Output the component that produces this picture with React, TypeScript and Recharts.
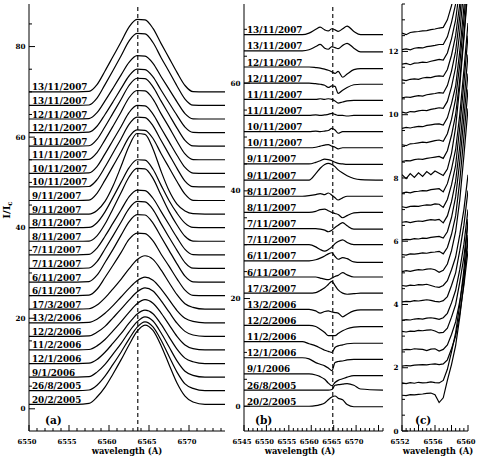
import React from 'react';
import { ComposedChart, Line, XAxis, YAxis, ReferenceLine } from 'recharts';

const FONT = "DejaVu Serif, serif";

// spectra, bottom (index 0) to top (index 23)
const dates = [
  '20/2/2005', '26/8/2005', '9/1/2006', '12/1/2006', '11/2/2006', '12/2/2006', '13/2/2006', '17/3/2007',
  '6/11/2007', '6/11/2007', '7/11/2007', '7/11/2007', '8/11/2007', '8/11/2007', '9/11/2007', '9/11/2007',
  '10/11/2007', '10/11/2007', '11/11/2007', '11/11/2007', '12/11/2007', '12/11/2007', '13/11/2007', '13/11/2007',
];

// ---------- panel (a): H-alpha profiles, I/Ic ----------
const wlA = [6550, 6556, 6557.5, 6558.5, 6559.5, 6560.5, 6561.5, 6562.5, 6563.5, 6564.5, 6565.5, 6566.5, 6567.5, 6568.5, 6569.5, 6570.5, 6572, 6574.5];
const offsetsA = [0, 3, 6, 9, 12, 15, 18, 21, 24, 27, 30, 33, 36, 39, 42, 45, 48, 51, 54, 57, 60, 63, 66, 69];
const profilesA = [
  [1, 1, 1.2, 2.6, 4.8, 7.7, 10.8, 14.1, 17.1, 18.5, 17.3, 14.0, 9.8, 5.7, 2.8, 1.5, 1, 1],
  [1, 1, 1.15, 2.2, 4.2, 6.8, 9.5, 12.4, 15.0, 16.2, 15.1, 12.2, 8.6, 5.1, 2.5, 1.5, 1, 1],
  [1, 1, 1.1, 2.1, 3.8, 6.1, 8.4, 11.0, 13.2, 14.3, 13.4, 10.8, 7.7, 4.6, 2.3, 1.4, 1, 1],
  [1, 1, 1.1, 1.9, 3.5, 5.5, 7.6, 9.9, 11.9, 12.8, 12.0, 9.7, 6.9, 4.2, 2.2, 1.4, 1, 1],
  [1, 1, 1.1, 1.9, 3.3, 5.2, 7.2, 9.3, 11.2, 12.1, 11.3, 9.2, 6.6, 4.0, 2.1, 1.3, 1, 1],
  [1, 1, 1.1, 1.9, 3.2, 5.1, 7.0, 9.0, 10.8, 11.7, 11.0, 8.9, 6.4, 3.9, 2.1, 1.3, 1, 1],
  [1, 1, 1.1, 1.8, 3.1, 4.8, 6.7, 8.6, 10.3, 11.1, 10.4, 8.5, 6.1, 3.7, 2.0, 1.3, 1, 1],
  [1, 1, 1.1, 1.9, 3.5, 5.5, 7.6, 9.9, 11.9, 12.8, 12.0, 9.7, 6.9, 4.2, 2.2, 1.4, 1, 1],
  [1, 1, 1.1, 2.4, 5.0, 7.7, 10.5, 13.4, 14.8, 14.7, 13.1, 10.2, 7.5, 4.7, 2.2, 1.05, 1, 1],
  [1, 1, 1.1, 2.5, 5.3, 8.2, 11.3, 14.3, 15.9, 15.8, 14.0, 11.0, 8.0, 5.0, 2.3, 1.05, 1, 1],
  [1, 1, 1.1, 2.5, 5.3, 8.2, 11.2, 14.2, 15.8, 15.7, 14.0, 10.9, 7.9, 5.0, 2.3, 1.05, 1, 1],
  [1, 1, 1.1, 2.5, 5.1, 8.0, 10.9, 13.8, 15.3, 15.2, 13.5, 10.6, 7.7, 4.8, 2.2, 1.05, 1, 1],
  [1, 1, 1.05, 2.2, 4.8, 8.2, 11.7, 15.2, 17.1, 17.0, 14.9, 11.2, 7.6, 4.6, 2.1, 1.05, 1, 1],
  [1, 1, 1.05, 2.1, 4.5, 7.7, 11.0, 14.2, 16.0, 15.9, 13.9, 10.4, 7.0, 4.2, 2.0, 1.05, 1, 1],
  [1, 1, 1, 1.8, 3.8, 7.2, 11.5, 16.0, 18.8, 18.6, 15.4, 10.5, 6.2, 3.2, 1.7, 1.1, 1, 1],
  [1, 1, 1.1, 2.6, 5.5, 8.6, 11.7, 15.0, 16.6, 16.5, 14.7, 11.4, 8.3, 5.2, 2.4, 1.05, 1, 1],
  [1, 1, 1.1, 2.6, 5.4, 8.5, 11.6, 14.8, 16.4, 16.3, 14.5, 11.3, 8.2, 5.1, 2.3, 1.05, 1, 1],
  [1, 1, 1.1, 2.5, 5.3, 8.3, 11.3, 14.4, 16.0, 15.9, 14.1, 11.0, 8.0, 5.0, 2.3, 1.05, 1, 1],
  [1, 1, 1.1, 2.6, 5.4, 8.4, 11.5, 14.7, 16.3, 16.2, 14.4, 11.2, 8.2, 5.1, 2.3, 1.05, 1, 1],
  [1, 1, 1.1, 2.5, 5.3, 8.3, 11.3, 14.4, 16.0, 15.9, 14.1, 11.0, 8.0, 5.0, 2.3, 1.05, 1, 1],
  [1, 1, 1.1, 2.4, 5.0, 7.8, 10.7, 13.5, 15.0, 14.9, 13.3, 10.4, 7.6, 4.8, 2.2, 1.05, 1, 1],
  [1, 1, 1.1, 2.4, 5.0, 7.8, 10.7, 13.5, 15.0, 14.9, 13.3, 10.4, 7.6, 4.8, 2.2, 1.05, 1, 1],
  [1, 1, 1.1, 2.6, 5.6, 8.7, 11.9, 15.2, 16.9, 16.8, 14.9, 11.6, 8.5, 5.3, 2.4, 1.05, 1, 1],
  [1, 1, 1.1, 2.6, 5.6, 8.8, 12.0, 15.3, 17.0, 16.9, 15.0, 11.7, 8.5, 5.3, 2.4, 1.05, 1, 1],
];
const restA = 6563.6;

// ---------- panel (b): residual profiles ----------
const wlB = [6545, 6558, 6559.5, 6561, 6562, 6563, 6563.8, 6564.6, 6565.3, 6566, 6567, 6568, 6569.5, 6571, 6576];
const offsetsB = [0, 3, 6, 9, 12, 15, 18, 21, 24, 27, 30, 33, 36, 39, 42, 45, 48, 51, 54, 57, 60, 63, 66, 69];
const profilesB = [
  [0, 0, 0, 0.1, 0.3, 0.6, 1.2, 1.7, 1.9, 1.5, 1.2, 0.3, -0.1, -0.1, -0.1],
  [0, 0, 0, 0, 0, 0, 0, 0.1, 0.9, 1.0, 1.1, 1.2, 0.9, 0.2, 0],
  [0, 0, 0, -0.2, -0.5, -1.0, -1.7, -2.2, -1.6, -1.2, -0.9, -0.6, -0.3, -0.3, -0.3],
  [0, 0, -0.2, -0.9, -1.2, -1.5, -1.9, -2.4, -0.9, -0.7, -0.6, -0.4, -0.3, -0.3, -0.3],
  [0, 0, -0.4, -0.8, -1.2, -1.6, -1.8, -2.0, -1.1, -0.8, -0.6, -0.4, -0.3, -0.3, -0.3],
  [0, 0, 0, -0.2, -0.7, -1.3, -1.9, -1.9, -1.9, -1.5, -1.0, -0.6, -0.3, -0.2, -0.2],
  [0, 0, 0, -0.3, -0.7, -0.4, -0.3, -0.5, -0.6, -0.7, -1.4, -0.9, -0.3, -0.1, -0.1],
  [0, 0, 0, 0.1, 0.5, 1.0, 1.6, 2.2, 1.4, 0.6, 0, -0.2, -0.1, 0, 0],
  [0, 0, 0, 0, -0.2, -0.4, -0.5, -0.2, 0.1, 0.3, 0.8, 0.4, 0, 0, 0],
  [0, 0, 0, 0.2, 0.5, 0.9, 1.3, 1.5, 0.8, 0.3, 0.6, 0.4, -0.2, -0.3, -0.3],
  [0, 0, 0, -0.4, -0.9, -1.2, -0.9, -0.4, 0.2, 0.6, 0.9, 0.4, 0, 0, 0],
  [0, 0, 0, 0, -0.1, -0.3, -0.6, -0.3, 0.2, 0.6, 1.1, 0.5, -0.1, -0.1, -0.1],
  [0, 0, 0, 0.2, 0.5, 0.6, 0.3, 0, -0.2, -0.4, -1.0, -0.6, -0.1, 0, 0],
  [0, 0, 0.1, 0.3, 0.5, 0.3, 0.6, 0.2, -0.3, -0.7, -0.3, 0, 0, 0, 0],
  [0, 0, 0, 1.2, 2.2, 2.9, 3.1, 2.9, 2.5, 1.9, 1.3, 0.8, 0.3, 0.1, 0],
  [0, 0, 0, 0.3, 0.6, 0.9, 0.8, 0.6, 0.3, 0.1, 0, -0.1, -0.1, -0.1, -0.1],
  [0, 0, 0, 0.1, 0.3, 0.5, 0.6, 0.3, 0.1, -0.2, 0, 0, 0, 0, 0],
  [0, 0, 0, 0.1, 0, 0.1, 0.2, 0.6, 0.3, -0.3, 0, 0, 0, 0, 0],
  [0, 0, 0, 0.1, 0, 0.1, 0.2, 0.4, 0.2, 0, 0, -0.1, 0, 0, 0],
  [0, 0, 0, 0, 0.1, 0, 0.1, 0, -0.3, -0.7, -0.5, -0.3, -0.2, -0.2, -0.2],
  [0, 0, 0, -0.1, -0.2, -0.4, -0.8, -0.5, -0.6, -1.9, -1.3, -0.8, -0.3, -0.2, -0.2],
  [0, 0, 0, -0.1, -0.2, -0.4, -0.6, -0.9, -1.2, -0.8, -1.9, -1.3, -0.5, -0.3, -0.3],
  [0, 0, 0.2, 0.8, 1.2, 0.5, 0.3, 0.8, 0.6, 0.4, 1.0, 1.4, 0.5, -0.2, -0.2],
  [0, 0, 0.3, 1.0, 1.4, 0.9, 0.7, 1.1, 0.9, 0.6, 1.1, 1.6, 0.6, 0, 0],
];
const restB = 6564.8;

// ---------- panel (c): blue wing, I/Ic ----------
const wlC = [6552, 6552.5, 6553, 6553.5, 6554, 6554.5, 6555, 6555.5, 6556, 6556.5, 6557, 6557.5, 6558, 6558.5, 6559, 6559.5, 6560];
const offsetsC = [0, 0.5, 1, 1.5, 2, 2.5, 3, 3.5, 4, 4.5, 5, 5.5, 6, 6.5, 7, 7.5, 8, 8.5, 9, 9.5, 10, 10.5, 11, 11.5];
const profilesC = [
  [1.13, 1.12, 1.15, 1.14, 1.16, 1.17, 1.19, 1.20, 1.15, 0.90, 1.05, 1.60, 2.1, 2.7, 3.6, 4.7, 6.2],
  [1.02, 1.00, 1.03, 1.01, 1.04, 1.02, 1.03, 1.05, 1.03, 1.02, 1.10, 1.45, 2.0, 2.6, 3.5, 4.6, 6.2],
  [1.05, 1.07, 1.06, 1.08, 1.09, 1.10, 1.09, 1.11, 1.12, 1.10, 1.12, 1.25, 1.6, 2.0, 2.7, 3.6, 4.7],
  [1.06, 1.08, 1.07, 1.10, 1.09, 1.08, 1.04, 1.09, 1.10, 1.03, 1.08, 1.22, 1.55, 1.95, 2.6, 3.4, 4.5],
  [1.15, 1.13, 1.16, 1.15, 1.18, 1.17, 1.19, 1.20, 1.16, 1.10, 1.12, 1.25, 1.6, 2.0, 2.7, 3.5, 4.6],
  [1.00, 1.02, 1.01, 1.04, 1.05, 1.04, 1.07, 1.08, 1.06, 1.03, 1.08, 1.22, 1.55, 1.95, 2.6, 3.4, 4.5],
  [1.08, 1.10, 1.09, 1.12, 1.11, 1.13, 1.15, 1.13, 1.10, 1.08, 1.12, 1.25, 1.6, 2.0, 2.7, 3.5, 4.6],
  [1.10, 1.08, 1.11, 1.10, 1.13, 1.12, 1.14, 1.10, 1.06, 1.04, 1.10, 1.25, 1.6, 2.0, 2.7, 3.5, 4.6],
  [1.04, 1.07, 1.05, 1.08, 1.10, 1.09, 1.12, 1.13, 1.10, 1.02, 1.08, 1.28, 1.70, 2.3, 3.3, 4.7, 6.2],
  [1.08, 1.06, 1.10, 1.09, 1.11, 1.13, 1.12, 1.15, 1.16, 1.18, 1.10, 1.30, 1.72, 2.3, 3.4, 4.8, 6.3],
  [1.04, 1.06, 1.05, 1.08, 1.07, 1.10, 1.09, 1.12, 1.14, 1.15, 1.10, 1.30, 1.75, 2.4, 3.5, 4.9, 6.3],
  [1.10, 1.12, 1.09, 1.12, 1.14, 1.13, 1.16, 1.18, 1.17, 1.19, 1.08, 1.30, 1.75, 2.4, 3.5, 4.9, 6.4],
  [1.09, 1.06, 1.10, 1.11, 1.10, 1.13, 1.15, 1.14, 1.18, 1.17, 1.07, 1.32, 1.78, 2.4, 3.6, 5.0, 6.5],
  [1.02, 1.05, 1.03, 1.07, 1.08, 1.10, 1.09, 1.13, 1.15, 1.16, 1.06, 1.32, 1.78, 2.4, 3.5, 4.9, 6.4],
  [1.10, 0.98, 1.14, 1.02, 1.16, 1.05, 1.20, 1.10, 1.22, 1.15, 1.08, 1.28, 1.78, 2.6, 3.9, 5.4, 7.0],
  [1.02, 1.05, 1.04, 1.08, 1.10, 1.09, 1.12, 1.14, 1.16, 1.18, 1.12, 1.36, 1.85, 2.5, 3.6, 5.0, 6.6],
  [1.05, 1.02, 1.08, 1.09, 1.11, 1.13, 1.12, 1.15, 1.18, 1.20, 1.16, 1.40, 1.85, 2.5, 3.6, 5.0, 6.5],
  [1.07, 1.10, 1.08, 1.11, 1.13, 1.12, 1.16, 1.18, 1.20, 1.21, 1.17, 1.40, 1.85, 2.4, 3.5, 4.9, 6.4],
  [1.08, 1.05, 1.10, 1.09, 1.12, 1.14, 1.13, 1.17, 1.19, 1.22, 1.20, 1.42, 1.88, 2.5, 3.6, 5.0, 6.5],
  [1.03, 1.06, 1.05, 1.08, 1.10, 1.09, 1.13, 1.15, 1.17, 1.20, 1.18, 1.42, 1.88, 2.5, 3.6, 5.0, 6.5],
  [1.10, 1.08, 1.12, 1.13, 1.12, 1.16, 1.18, 1.17, 1.21, 1.23, 1.21, 1.43, 1.88, 2.5, 3.5, 4.9, 6.4],
  [1.10, 1.12, 1.08, 1.13, 1.14, 1.16, 1.15, 1.19, 1.22, 1.25, 1.23, 1.45, 1.90, 2.5, 3.5, 4.9, 6.4],
  [1.06, 1.08, 1.05, 1.10, 1.12, 1.11, 1.15, 1.17, 1.19, 1.22, 1.22, 1.46, 1.92, 2.5, 3.6, 5.0, 6.5],
  [1.08, 1.03, 1.10, 1.12, 1.13, 1.15, 1.16, 1.19, 1.21, 1.24, 1.26, 1.50, 1.95, 2.5, 3.6, 5.0, 6.5],
];

// ---------- axis tick labels ----------
const xMajorA = [6550, 6555, 6560, 6565, 6570];
const yMajorA = [0, 20, 40, 60, 80];
const xMajorB = [6545, 6550, 6555, 6560, 6565, 6570, 6575];
const xLabelsB = [6545, 6550, 6555, 6560, 6565, 6570];
const yMajorB = [0, 20, 40, 60];
const xMajorC = [6552, 6554, 6556, 6558, 6560];
const xLabelsC = [6552, 6556, 6560];
const yMajorC = [0, 2, 4, 6, 8, 10, 12];

const range = (a: number, b: number, s: number) => {
  const out: number[] = [];
  const n = Math.round((b - a) / s);
  for (let k = 0; k <= n; k++) out.push(Math.round((a + k * s) * 1000) / 1000);
  return out;
};

function buildRows(wl: number[], profiles: number[][], offsets: number[]) {
  return wl.map((w, k) => {
    const row: Record<string, number> = { wl: w };
    profiles.forEach((p, i) => {
      row['s' + i] = p[k] + offsets[i];
    });
    return row;
  });
}

const textStyle = { fontFamily: FONT, fontWeight: 700 as const, fill: '#000' };

function makeTick(side: 'bottom' | 'top' | 'left' | 'right', majors: number[], labels: number[]) {
  return (props: any) => {
    const { x, y, payload } = props;
    const v = payload.value as number;
    const major = majors.some((m) => Math.abs(m - v) < 1e-6);
    const showLabel = labels.some((m) => Math.abs(m - v) < 1e-6);
    const len = major ? 6 : 3;
    if (side === 'bottom') {
      return (
        <g>
          <line x1={x} x2={x} y1={y} y2={y - len} stroke="#000" strokeWidth={1} />
          {showLabel && (
            <text x={x - 2} y={y + 12.5} textAnchor="middle" fontSize={6.8} {...textStyle}>{v}</text>
          )}
        </g>
      );
    }
    if (side === 'top') {
      return <line x1={x} x2={x} y1={y} y2={y + len} stroke="#000" strokeWidth={1} />;
    }
    if (side === 'left') {
      return (
        <g>
          <line x1={x} x2={x + len} y1={y} y2={y} stroke="#000" strokeWidth={1} />
          {showLabel && (
            <text x={x - 3.5} y={y + 2.6} textAnchor="end" fontSize={7.2} {...textStyle}>{v}</text>
          )}
        </g>
      );
    }
    return <line x1={x} x2={x - len} y1={y} y2={y} stroke="#000" strokeWidth={1} />;
  };
}

type PanelProps = {
  left: number;
  width: number;
  rightMargin: number;
  yAxisWidth: number;
  data: Record<string, number>[];
  xDomain: [number, number];
  yDomain: [number, number];
  xTicks: number[];
  xMajor: number[];
  xLabels: number[];
  yTicks: number[];
  yMajor: number[];
  rest?: number;
  withLabels: boolean;
  lineType: 'monotone' | 'linear';
};

function Panel(p: PanelProps) {
  const H = 457;
  const axisLine = { stroke: '#000', strokeWidth: 1 };
  return (
    <div style={{ position: 'absolute', left: p.left, top: 0 }}>
      <ComposedChart width={p.width} height={H} data={p.data} margin={{ top: 4, right: p.rightMargin, left: 0, bottom: 0 }}>
        <XAxis xAxisId="b" orientation="bottom" type="number" dataKey="wl" domain={p.xDomain} allowDataOverflow
          ticks={p.xTicks} interval={0} height={26} tickSize={0} tickMargin={0} tickLine={false} axisLine={axisLine}
          tick={makeTick('bottom', p.xMajor, p.xLabels)} />
        <XAxis xAxisId="t" orientation="top" type="number" dataKey="wl" domain={p.xDomain} allowDataOverflow
          ticks={p.xTicks} interval={0} height={0} tickSize={0} tickMargin={0} tickLine={false} axisLine={axisLine}
          tick={makeTick('top', p.xMajor, [])} />
        <YAxis yAxisId="l" orientation="left" type="number" domain={p.yDomain} allowDataOverflow
          ticks={p.yTicks} interval={0} width={p.yAxisWidth} tickSize={0} tickMargin={0} tickLine={false} axisLine={axisLine}
          tick={makeTick('left', p.yMajor, p.yMajor)} />
        <YAxis yAxisId="r" orientation="right" type="number" domain={p.yDomain} allowDataOverflow
          ticks={p.yTicks} interval={0} width={0} tickSize={0} tickMargin={0} tickLine={false} axisLine={axisLine}
          tick={makeTick('right', p.yMajor, [])} />
        {p.rest !== undefined && (
          <ReferenceLine xAxisId="b" yAxisId="l" x={p.rest} stroke="#000" strokeWidth={1.1} strokeDasharray="4 3" />
        )}
        {dates.map((d, i) => (
          <Line
            key={'s' + i}
            xAxisId="b"
            yAxisId="l"
            dataKey={'s' + i}
            type={p.lineType}
            stroke="#000"
            strokeWidth={1.2}
            isAnimationActive={false}
            activeDot={false}
            dot={(dp: any) =>
              p.withLabels && dp.index === 0 ? (
                <text key={`lbl-${i}`} x={dp.cx + 3} y={dp.cy - 1.5} fontSize={8.8} {...textStyle}>
                  {d}
                </text>
              ) : (
                <g key={`d-${i}-${dp.index}`} />
              )
            }
          />
        ))}
      </ComposedChart>
    </div>
  );
}

const dataA = buildRows(wlA, profilesA, offsetsA);
const dataB = buildRows(wlB, profilesB, offsetsB);
const dataC = buildRows(wlC, profilesC, offsetsC);

export default function App() {
  return (
    <div style={{ position: 'absolute', left: 0, top: 0, width: 480, height: 457, background: '#fff', overflow: 'hidden' }}>
      <Panel left={0} width={230} rightMargin={5} yAxisWidth={29} data={dataA}
        xDomain={[6550, 6574.5]} yDomain={[-4.9, 89.4]}
        xTicks={range(6550, 6574, 1)} xMajor={xMajorA} xLabels={xMajorA}
        yTicks={range(0, 85, 5)} yMajor={yMajorA} rest={restA} withLabels lineType="monotone" />
      <Panel left={229} width={160} rightMargin={6} yAxisWidth={15} data={dataB}
        xDomain={[6545, 6576]} yDomain={[-4.6, 74.7]}
        xTicks={range(6545, 6576, 1)} xMajor={xMajorB} xLabels={xLabelsB}
        yTicks={range(0, 70, 5)} yMajor={yMajorB} rest={restB} withLabels lineType="monotone" />
      <Panel left={385} width={95} rightMargin={12} yAxisWidth={17} data={dataC}
        xDomain={[6552, 6560]} yDomain={[0, 13.5]}
        xTicks={range(6552, 6560, 0.5)} xMajor={xMajorC} xLabels={xLabelsC}
        yTicks={range(0, 13.5, 0.5)} yMajor={yMajorC} withLabels={false} lineType="linear" />
      <svg width={480} height={457} style={{ position: 'absolute', left: 0, top: 0, pointerEvents: 'none' }}>
        <g {...textStyle}>
          <text x={127} y={454} textAnchor="middle" fontSize={8.4}>wavelength (A)</text>
          <text x={300} y={454} textAnchor="middle" fontSize={8.4}>wavelength (A)</text>
          <text x={438} y={454} textAnchor="middle" fontSize={8.4}>wavelength (A)</text>
          <text x={45} y={424} fontSize={10.5}>(a)</text>
          <text x={255} y={424} fontSize={10.5}>(b)</text>
          <text x={415} y={424} fontSize={10.5}>(c)</text>
          <text x={10} y={210} transform="rotate(-90 10 210)" textAnchor="middle" fontSize={10}>
            I/I<tspan dy={2} fontSize={7}>c</tspan>
          </text>
        </g>
      </svg>
    </div>
  );
}
